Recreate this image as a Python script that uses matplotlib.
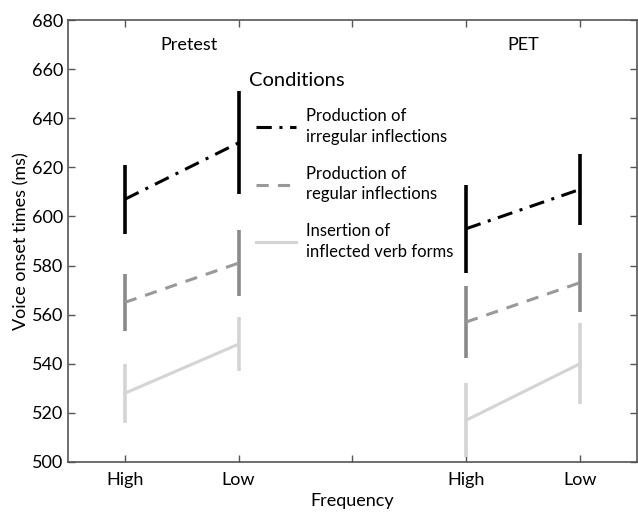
import matplotlib.pyplot as plt
import numpy as np

plt.rcParams['font.family'] = ['Lato', 'DejaVu Sans']

x_labels = ["High", "Low", "", "High", "Low"]
sessions = ["Pretest", "PET"]

# means and half-widths of the error bars, order: Pretest High, Pretest Low, PET High, PET Low
irregular_mean = [607, 630, 595, 611]
irregular_err = [14, 21, 18, 14.5]
regular_mean = [565, 581, 557, 573]
regular_err = [11.5, 13.5, 14.5, 12]
insertion_mean = [528, 548, 517, 540]
insertion_err = [12, 11, 15, 16.5]

conditions = [
    ("Production of\nirregular inflections", irregular_mean, irregular_err, "black", "black", (0, (5, 2.5, 1, 2.5))),
    ("Production of\nregular inflections", regular_mean, regular_err, "#999999", "#8a8a8a", (0, (4, 3))),
    ("Insertion of\ninflected verb forms", insertion_mean, insertion_err, "#d4d4d4", "#d4d4d4", "-"),
]

xpos = np.array([1, 2, 4, 5])

fig = plt.figure(figsize=(6.38, 5.17), dpi=100)
ax = fig.add_axes([0.1066, 0.1064, 0.8914, 0.8549])

handles = []
for label, mean, err, lcol, ecol, ls in conditions:
    mean = np.array(mean)
    err = np.array(err)
    ax.vlines(xpos, mean - err, mean + err, color=ecol, lw=2.6)
    h, = ax.plot(xpos[:2], mean[:2], color=lcol, ls=ls, lw=2.2, label=label)
    ax.plot(xpos[2:], mean[2:], color=lcol, ls=ls, lw=2.2)
    handles.append(h)

ax.set_xlim(0.5, 5.5)
ax.set_ylim(500, 680)
ax.set_xticks([1, 2, 3, 4, 5])
ax.set_xticklabels(x_labels)
ax.set_yticks(np.arange(500, 681, 20))
ax.tick_params(direction="in", top=True, right=True, labelsize=13, length=5,
               width=1, color="#555555")
ax.tick_params(axis="x", pad=7)
for s in ax.spines.values():
    s.set_color("#555555")
    s.set_linewidth(1.2)

ax.set_xlabel("Frequency", fontsize=13, labelpad=4)
ax.set_ylabel("Voice onset times (ms)", fontsize=13, labelpad=2)

ax.text(1.56, 670, sessions[0], ha="center", va="center", fontsize=13)
ax.text(4.5, 670, sessions[1], ha="center", va="center", fontsize=13)

# legend title drawn separately so the gap to the entries can be matched
ax.text(0.318, 0.864, "Conditions", transform=ax.transAxes, ha="left",
        va="center", fontsize=14.5)
leg = ax.legend(handles=handles, loc="upper left",
                bbox_to_anchor=(0.304, 0.834), frameon=False, fontsize=12,
                handlelength=2.4, handletextpad=0.6, labelspacing=1.25)
for t in leg.get_texts():
    t.set_linespacing(1.35)

fig.savefig("out.png", dpi=100)
